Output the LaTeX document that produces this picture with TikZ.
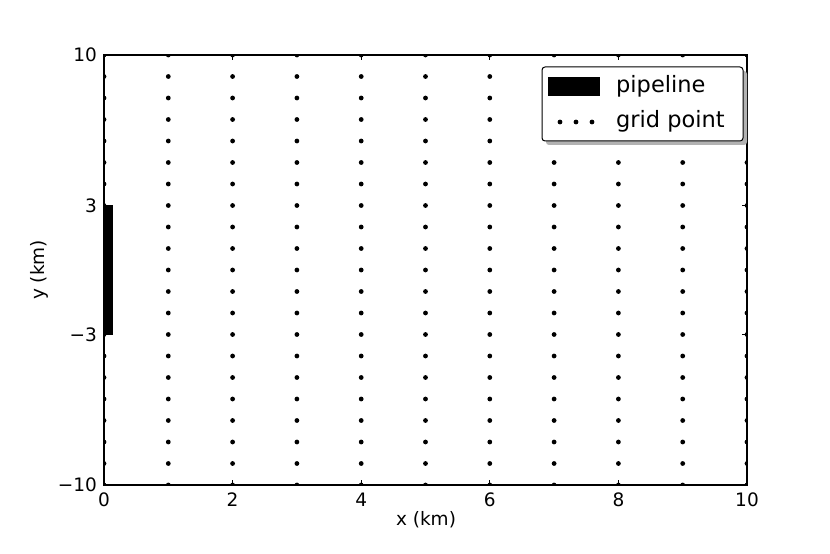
\documentclass[tikz,border=0pt]{standalone}
\usepackage{fontspec}
\setmainfont{DejaVu Sans}
\begin{document}
\begin{tikzpicture}[x=64.3pt,y=21.5pt,
  gdot/.style={fill=black,draw=none},
  ticklab/.style={font=\fontsize{18.5}{22}\selectfont,inner sep=0pt},
  axlab/.style={font=\fontsize{18.5}{22}\selectfont,inner sep=0pt},
  leglab/.style={font=\fontsize{22.5}{27}\selectfont,inner sep=0pt,anchor=west}]
\useasboundingbox[fill=white] (-104pt,-284pt) rectangle (726pt,270pt);
% grid points
\begin{scope}
\clip (0,-10) rectangle (10,10);
\foreach \i in {0,...,10}{
  \foreach \j in {-10,...,10}{
    \fill[gdot] (\i,\j) circle[radius=2.4pt];
  }
}
\end{scope}
% pipeline
\fill (0,-3) rectangle (0.14,3);
% ticks
\foreach \i in {0,2,...,10}{
  \draw[line width=0.8pt] (\i,-10) -- ++(0,5pt);
  \draw[line width=0.8pt] (\i,10) -- ++(0,-5pt);
  \node[ticklab,anchor=north] (xt\i) at ([yshift=-8pt]\i,-10) {\i};
}
\foreach \j in {-10,-3,3,10}{
  \draw[line width=0.8pt] (0,\j) -- ++(5pt,0);
  \draw[line width=0.8pt] (10,\j) -- ++(-5pt,0);
}
\node[ticklab,anchor=east] (yt1) at ([xshift=-7pt]0,10) {10};
\node[ticklab,anchor=east] (yt2) at ([xshift=-7pt]0,3) {3};
\node[ticklab,anchor=east] (yt3) at ([xshift=-7pt]0,-3) {\textminus3};
\node[ticklab,anchor=east] (yt4) at ([xshift=-7pt]0,-10) {\textminus10};
% frame
\draw[line width=1.3pt] (0,-10) rectangle (10,10);
% axis labels
\node[axlab] (xl) at (322pt,-250pt) {x (km)};
\node[axlab,rotate=90] (yl) at (-65pt,0pt) {y (km)};
% legend
\fill[gray!60,rounded corners=3pt] (442pt,125pt) rectangle (643pt,199pt);
\draw[fill=white,line width=1pt,rounded corners=3pt] (438pt,129pt) rectangle (639pt,203pt);
\fill (444pt,174pt) rectangle (496pt,193pt);
\node[leglab] (l1) at (512pt,184pt) {pipeline};
\foreach \xx in {456,472,488}{\fill (\xx pt,148pt) circle[radius=2.4pt];}
\node[leglab] (l2) at (512pt,149pt) {grid point};
\end{tikzpicture}
\end{document}
